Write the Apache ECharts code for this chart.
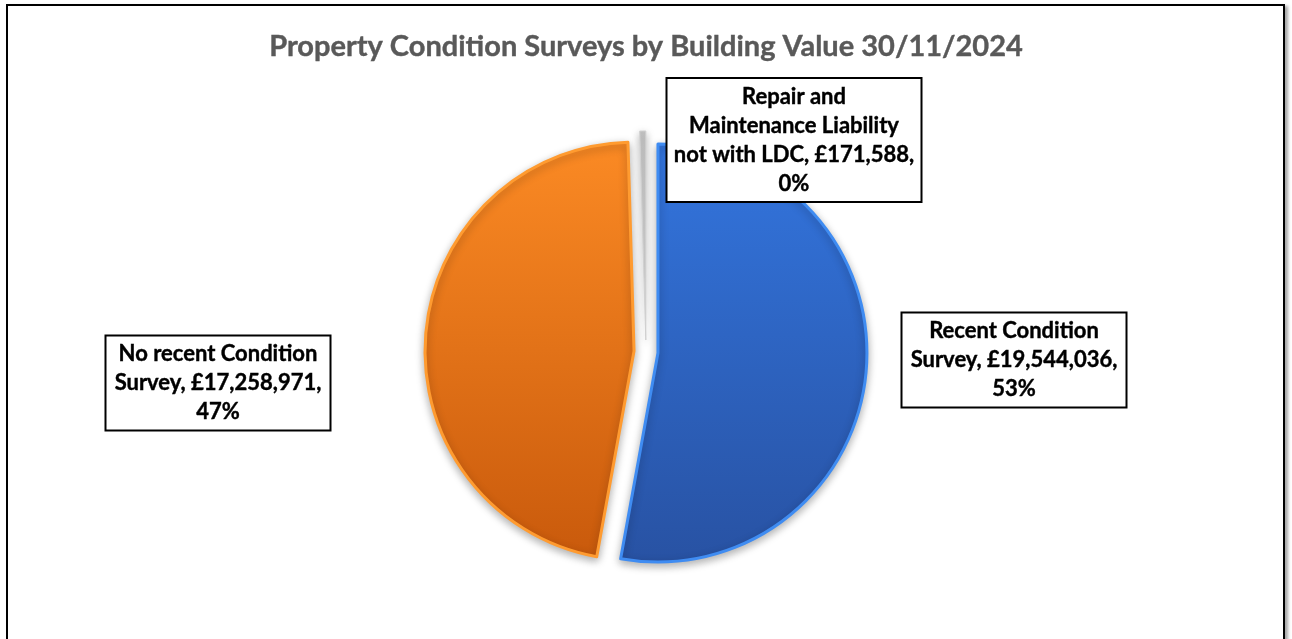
<!DOCTYPE html>
<html>
<head>
<meta charset="utf-8">
<title>Property Condition Surveys</title>
<script src="https://cdn.jsdelivr.net/npm/echarts@6/dist/echarts.min.js"></script>
<style>
  html, body { margin: 0; padding: 0; background: #fff; overflow: hidden; }
  #chart { position: absolute; left: 0; top: 0; width: 1292px; height: 639px; }
  .frame {
    position: absolute; left: 6px; top: 4px; width: 1275px; height: 700px;
    border: 2px solid #000; box-shadow: 3px 2px 3px rgba(0,0,0,0.35);
    pointer-events: none;
  }
</style>
</head>
<body>
<div id="chart"></div>
<div class="frame"></div>
<script>
// data
const categories = ['Recent Condition Survey', 'No recent Condition Survey', 'Repair and Maintenance Liability not with LDC'];
const values = [19544036, 17258971, 171588];

// label boxes: centre, outer width, and how many words go on each line
const labelBoxes = [
  { x: 1014, y: 360, w: 225, words: [2, 2, 1] },
  { x: 218, y: 383, w: 225, words: [3, 2, 1] },
  { x: 794, y: 140, w: 255, words: [2, 2, 4, 1] }
];

const colors = [
  ['#3375de', '#2852a3', '#3f8cf2'],
  ['#fb8a24', '#c95a0c', '#ff9b30'],
  ['#c4c4c4', '#d6d6d6', '#d0d0d0']
];

const total = values.reduce((a, b) => a + b, 0);

function money(v) {
  return '£' + v.toLocaleString('en-GB');
}

function labelText(i) {
  const pct = Math.round(values[i] / total * 100);
  const words = (categories[i] + ', ' + money(values[i]) + ', ' + pct + '%').split(' ');
  const lines = [];
  let k = 0;
  labelBoxes[i].words.forEach(function (n) {
    lines.push(words.slice(k, k + n).join(' '));
    k += n;
  });
  return lines.join('\n');
}

const myChart = echarts.init(document.getElementById('chart'));

myChart.setOption({
  animation: false,
  title: {
    text: 'Property Condition Surveys by Building Value 30/11/2024',
    left: 'center',
    top: 27,
    textStyle: {
      color: '#595959',
      fontFamily: 'Lato',
      fontWeight: 'bold',
      fontSize: 29,
      textBorderColor: '#595959',
      textBorderWidth: 0.4
    }
  },
  graphic: labelBoxes.map(function (b, i) {
    return {
      type: 'text',
      x: b.x,
      y: b.y,
      z: 10,
      style: {
        text: labelText(i),
        fontFamily: 'Lato',
        fontWeight: 'bold',
        fontSize: 22,
        lineHeight: 29,
        fill: '#000',
        stroke: '#000',
        lineWidth: 0.4,
        align: 'center',
        verticalAlign: 'middle',
        width: b.w - 2,
        backgroundColor: '#fff',
        borderColor: '#000',
        borderWidth: 2,
        padding: [3, 0]
      }
    };
  }),
  series: [
    {
      type: 'pie',
      center: [646, 352],
      radius: [0, 209],
      startAngle: 90,
      clockwise: true,
      selectedMode: 'multiple',
      selectedOffset: 12,
      label: { show: false },
      labelLine: { show: false },
      emphasis: { disabled: true },
      data: categories.map(function (name, i) {
        return {
          name: name,
          value: values[i],
          selected: true,
          itemStyle: {
            color: new echarts.graphic.LinearGradient(0, 0, 0, 1, [
              { offset: 0, color: colors[i][0] },
              { offset: 1, color: colors[i][1] }
            ]),
            borderColor: colors[i][2],
            borderWidth: i === 2 ? 1 : 3,
            shadowBlur: 8,
            shadowOffsetY: 3,
            shadowColor: 'rgba(0,0,0,0.3)'
          }
        };
      })
    }
  ]
});

window.onresize = function () {
  myChart.resize();
};
</script>
</body>
</html>
